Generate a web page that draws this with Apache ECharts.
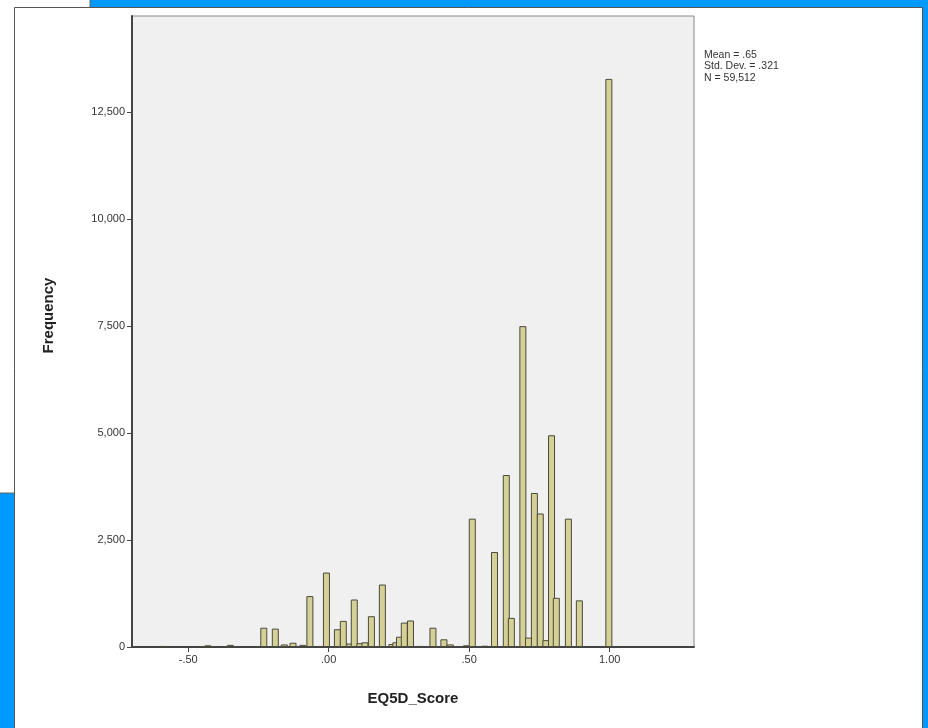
<!DOCTYPE html>
<html>
<head>
<meta charset="utf-8">
<script src="https://cdn.jsdelivr.net/npm/echarts@6/dist/echarts.min.js"></script>
<style>
html,body{margin:0;padding:0;background:#0099ff;}
#chart{width:928px;height:728px;}
</style>
</head>
<body>
<div id="chart"></div>
<script>
// EQ5D score bin centres and frequencies
const scoreValues = [-0.59, -0.43, -0.35, -0.231, -0.19, -0.158, -0.127, -0.092, -0.067, -0.008,
  0.031, 0.052, 0.075, 0.091, 0.111, 0.129, 0.152, 0.191, 0.225, 0.239, 0.252, 0.269, 0.291,
  0.326, 0.371, 0.41, 0.433, 0.49, 0.511, 0.556, 0.59, 0.632, 0.65, 0.691, 0.711, 0.732, 0.753,
  0.773, 0.793, 0.81, 0.853, 0.892, 0.997];
const frequencies = [25, 40, 50, 450, 430, 60, 100, 50, 1190, 1740,
  415, 610, 80, 1110, 90, 110, 720, 1460, 70, 110, 240, 570, 620,
  25, 450, 180, 60, 40, 3000, 30, 2220, 4020, 680, 7500, 220, 3600, 3120,
  160, 4950, 1150, 3000, 1090, 13280];
const xTicks = [-0.5, 0, 0.5, 1.0];
const xTickLabels = ['-.50', '.00', '.50', '1.00'];
const yTicks = [0, 2500, 5000, 7500, 10000, 12500];
const yTickLabels = ['0', '2,500', '5,000', '7,500', '10,000', '12,500'];
const statsLines = ['Mean = .65', 'Std. Dev. = .321', 'N = 59,512'];

const FONT = "'Liberation Sans', Arial, sans-serif";
const chart = echarts.init(document.getElementById('chart'));
const barData = scoreValues.map((v, i) => [v, frequencies[i]]);

chart.setOption({
  animation: false,
  backgroundColor: 'transparent',
  graphic: [
    { type: 'rect', z: -100, shape: { x: -2, y: -2, width: 92, height: 495 },
      style: { fill: '#ffffff', stroke: '#666666', lineWidth: 1 } },
    { type: 'rect', z: -99, shape: { x: 14.5, y: 7.5, width: 908, height: 730 },
      style: { fill: '#ffffff', stroke: '#555555', lineWidth: 1 } },
    { type: 'text', left: 704, top: 49, z: 10,
      style: { text: statsLines.join('\n'), font: '10.5px ' + FONT, lineHeight: 11.5, fill: '#333333' } }
  ],
  grid: {
    left: 132, top: 16, right: 234, bottom: 81,
    show: true, backgroundColor: '#f0f0f0', borderColor: '#888888', borderWidth: 1
  },
  xAxis: {
    type: 'value', min: -0.7, max: 1.3,
    name: 'EQ5D_Score', nameLocation: 'middle', nameGap: 44,
    nameTextStyle: { fontFamily: FONT, fontSize: 15, fontWeight: 'bold', color: '#222' },
    axisLine: { show: true, onZero: false, lineStyle: { color: '#444', width: 2 } },
    axisTick: { show: true, length: 5, customValues: xTicks, lineStyle: { color: '#444' } },
    axisLabel: { customValues: xTicks, fontFamily: FONT, fontSize: 11, color: '#333', margin: 7,
      formatter: v => { const i = xTicks.findIndex(t => Math.abs(t - v) < 1e-9); return i >= 0 ? xTickLabels[i] : ''; } },
    splitLine: { show: false }
  },
  yAxis: {
    type: 'value', min: 0, max: 14750,
    name: 'Frequency', nameLocation: 'middle', nameGap: 76,
    nameTextStyle: { fontFamily: FONT, fontSize: 15, fontWeight: 'bold', color: '#222', padding: [0, 0, 0, 32] },
    axisLine: { show: true, onZero: false, lineStyle: { color: '#444', width: 2 } },
    axisTick: { show: true, length: 5, customValues: yTicks, lineStyle: { color: '#444' } },
    axisLabel: { customValues: yTicks, fontFamily: FONT, fontSize: 11, color: '#333', margin: 7,
      formatter: v => { const i = yTicks.indexOf(v); return i >= 0 ? yTickLabels[i] : ''; } },
    splitLine: { show: false }
  },
  series: [{
    type: 'bar',
    data: barData,
    barWidth: 7,
    itemStyle: { color: '#d4d096', borderColor: '#4a4a3c', borderWidth: 1 }
  }]
});
</script>
</body>
</html>
